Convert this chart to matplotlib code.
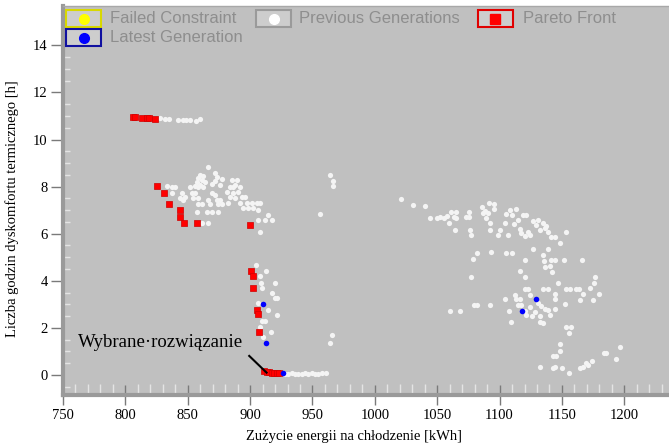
import matplotlib
matplotlib.use("Agg")
import matplotlib.pyplot as plt
from matplotlib.patches import Rectangle
from matplotlib.lines import Line2D
from matplotlib.ticker import MultipleLocator

# --- DATA ---
# previous generations (white dots)
prev_x = [828, 832, 835, 842, 846, 849, 852, 857, 860,
          865.9, 859.8, 862.4, 858.4, 861.1, 863.8, 857.1, 859.8, 855.8, 858.4, 862.4,
          871.8, 873.1, 871.8, 877.1, 869.1, 875.8, 833.1, 837.1, 839.7, 837.1, 845.1,
          851.8, 853.1, 855.8, 869.1, 871.8, 843.8, 846.4, 847.8, 854.4, 858.4, 866.5,
          873.1, 875.8, 858.4, 861.1, 867.8, 874.5, 877.1, 882.5, 883.8, 886.5, 886.5,
          885.2, 889.2, 883.8, 887.8, 891.8, 890.5, 893.2, 895.8, 887.8, 881.1, 891.8,
          897.2, 901.2, 905.2, 907.9, 894.5, 898.5, 902.5, 906.5, 857.1, 865.1, 869.1,
          874.5, 914.5, 906.5, 911.9, 917.2, 861.1, 866.5, 907.9,
          963.9, 966.6, 966.6, 955.9, 965.3, 963.9,
          904.4, 907.9, 912.4, 908.7, 919.9, 909.2, 917.2, 919.9, 921.2, 906.5, 914.6,
          909.2, 911.9, 921.8, 907.9, 916.4, 910.5,
          927.9, 930.6, 933.3, 935.9, 938.6, 941.3, 943.9, 946.6, 949.3, 951.9, 954.6,
          957.3, 960.8,
          1021.3, 1030.2, 1040.0, 1044.6, 1049.9, 1052.1, 1055.3, 1057.9, 1061.4, 1065.4,
          1063.3, 1065.4, 1059.5, 1064.4, 1072.9, 1075.6, 1075.6, 1076.1, 1077.4,
          1086.3, 1091.6, 1095.3, 1088.1, 1086.8, 1090.8, 1095.3, 1089.5, 1092.1, 1092.7,
          1100.1, 1098.8, 1106.8, 1104.2, 1105.5, 1108.2, 1113.0, 1110.3, 1111.4, 1114.8,
          1116.2, 1118.8, 1121.5, 1117.5, 1120.2, 1122.8, 1124.2, 1126.9, 1129.5, 1130.9,
          1132.2, 1134.9, 1136.2, 1137.5, 1138.9, 1141.5, 1144.2, 1153.6, 1148.8, 1126.9,
          1134.9, 1138.9, 1082.0, 1078.8, 1092.9, 1104.9, 1110.3, 1120.2, 1135.4, 1141.5,
          1144.2, 1151.4, 1166.4, 1136.2, 1140.2, 1116.2, 1142.3, 1120.2, 1077.4, 1146.9,
          1176.3, 1175.5, 1172.3,
          1060.1, 1068.1, 1079.3, 1081.5, 1092.2, 1104.2, 1107.7, 1109.5, 1112.2, 1113.5,
          1116.2, 1114.9, 1117.5, 1120.2, 1122.9, 1124.2, 1124.2, 1120.2, 1121.5, 1125.6,
          1128.2, 1130.9, 1133.6, 1132.2, 1132.2, 1134.9, 1136.2, 1138.9, 1140.2, 1144.2,
          1134.9, 1138.9, 1144.2, 1144.2, 1152.3, 1153.6, 1156.3, 1161.1, 1163.8, 1167.0,
          1164.8, 1175.0, 1179.8, 1153.6, 1157.6, 1155.7, 1148.3, 1148.3, 1142.9, 1145.6,
          1142.9, 1144.2, 1150.4, 1155.7, 1132.8, 1164.3, 1167.0, 1169.6, 1171.0, 1174.4,
          1183.5, 1193.7, 1196.3, 1185.0]
prev_y = [10.9, 10.88, 10.85, 10.82, 10.83, 10.82, 10.83, 10.8, 10.85,
          8.85, 8.49, 8.45, 8.35, 8.28, 8.21, 8.21, 8.07, 8.03, 8.00, 8.00,
          8.56, 8.42, 8.25, 8.31, 8.11, 8.07, 8.04, 8.00, 7.97, 7.72, 7.72,
          7.97, 7.72, 7.72, 7.72, 7.64, 7.50, 7.43, 7.55, 7.50, 7.50, 7.43,
          7.43, 7.43, 7.25, 7.25, 7.25, 7.25, 7.25, 7.32, 7.57, 7.72, 8.00,
          8.28, 8.28, 8.00, 8.07, 8.00, 7.79, 7.57, 7.57, 7.50, 7.79, 7.29,
          7.29, 7.32, 7.29, 7.29, 7.08, 7.08, 7.08, 7.01, 6.94, 6.94, 6.94,
          6.94, 6.80, 6.58, 6.58, 6.58, 6.44, 6.44, 6.09,
          8.49, 8.25, 8.03, 6.84, 1.70, 1.37,
          4.67, 4.20, 4.43, 3.92, 3.92, 3.68, 3.47, 3.26, 3.26, 3.04, 2.76,
          2.31, 2.31, 2.55, 2.05, 1.81, 1.60,
          0.06, 0.05, 0.07, 0.05, 0.06, 0.04, 0.08, 0.05, 0.10, 0.06, 0.04,
          0.07, 0.09,
          7.46, 7.22, 7.18, 6.68, 6.68, 6.72, 6.67, 6.75, 6.94, 6.94,
          6.72, 6.65, 6.44, 6.16, 6.70, 6.70, 6.94, 6.16, 5.95,
          7.15, 7.32, 7.26, 6.98, 6.87, 6.89, 7.04, 6.65, 6.44, 6.16,
          6.16, 5.95, 5.95, 6.44, 6.84, 7.01, 7.04, 6.80, 6.41, 6.58,
          6.19, 6.80, 6.80, 6.02, 5.90, 6.09, 5.95, 6.55, 6.37, 6.58,
          6.16, 6.44, 6.23, 6.33, 6.09, 5.85, 5.85, 6.09, 5.62, 5.34,
          5.10, 5.34, 5.20, 4.91, 5.21, 5.17, 5.17, 4.89, 4.86, 4.88,
          4.88, 4.88, 4.88, 4.60, 4.64, 4.43, 4.36, 4.18, 4.18, 3.92,
          4.15, 3.89, 3.68,
          2.72, 2.72, 2.97, 2.97, 2.97, 3.21, 2.73, 2.27, 3.40, 3.21,
          3.21, 2.97, 2.97, 3.64, 3.64, 3.40, 2.90, 2.73, 2.55, 2.51,
          2.69, 3.04, 2.93, 2.51, 2.27, 2.22, 2.79, 2.76, 2.55, 2.79,
          3.64, 3.64, 3.44, 3.21, 3.00, 3.64, 3.64, 3.64, 3.64, 3.44,
          3.19, 3.19, 3.44, 2.02, 2.02, 1.80, 1.32, 1.03, 0.81, 0.81,
          0.28, 0.36, 0.28, 0.07, 0.33, 0.28, 0.33, 0.52, 0.42, 0.61,
          0.95, 0.67, 1.18, 0.92]

# pareto front (red squares)
pareto_x = [806, 808, 813, 817, 819, 824,
            825.0, 831.2, 835.0, 843.5, 843.5, 847.2, 857.4, 899.8,
            900.7, 902.0, 902.5, 905.2, 906.0, 906.8,
            911.1, 913.2, 915.4, 917.2, 919.1, 921.2, 922.8]
pareto_y = [10.95, 10.95, 10.93, 10.92, 10.9, 10.88,
            8.02, 7.71, 7.25, 6.99, 6.72, 6.45, 6.45, 6.36,
            4.43, 4.20, 3.68, 2.76, 2.58, 1.81,
            0.15, 0.13, 0.12, 0.10, 0.09, 0.08, 0.07]

# latest generation (blue dots)
latest_x = [910.5, 913.0, 926.0, 1128.8, 1118.1]
latest_y = [3.00, 1.35, 0.07, 3.21, 2.72]

x_ticks = list(range(750, 1201, 50))
y_ticks = list(range(0, 15, 2))

chosen_label = "Wybrane·rozwiązanie"
chosen_text_pos = (762, 1.36)
chosen_line_x = [899.3, 913.2]
chosen_line_y = [0.81, 0.10]

legend_items = [
    ("Failed Constraint", "o", "#ffff00", "#d8d800"),
    ("Previous Generations", "o", "#ffffff", "#9a9a9a"),
    ("Pareto Front", "s", "#ff0000", "#e00000"),
    ("Latest Generation", "o", "#0000ff", "#1010a0"),
]

# --- PLOT ---
W, H = 669, 445
fig = plt.figure(figsize=(W / 100, H / 100), dpi=100)
ax = fig.add_axes([63 / W, 1 - 395 / H, (W - 63) / W + 0.01, 389 / H])
ax.set_facecolor("#c0c0c0")

ax.scatter(prev_x, prev_y, s=14, color="#f4f4f4", linewidths=0, zorder=2)
ax.scatter(pareto_x, pareto_y, s=18, marker="s", color="#ff0000",
           edgecolors="#d00000", linewidths=0.5, zorder=3)
ax.scatter(latest_x, latest_y, s=16, color="#0000ff", linewidths=0, zorder=4)

ax.plot(chosen_line_x, chosen_line_y, color="black", lw=1.5, zorder=5)
ax.text(chosen_text_pos[0], chosen_text_pos[1], chosen_label, fontsize=13.5,
        family="Liberation Serif", va="center", ha="left")

ax.set_xlim(750, 750 + (W + 7 - 63) / 1.248)
ax.set_ylim(-0.85, 15.67)
ax.set_xticks(x_ticks)
ax.set_yticks(y_ticks)
ax.xaxis.set_minor_locator(MultipleLocator(10))
ax.yaxis.set_minor_locator(MultipleLocator(0.5))

for lab in ax.get_xticklabels() + ax.get_yticklabels():
    lab.set_family("Liberation Serif")
    lab.set_fontsize(10.5)

ax.tick_params(axis="x", which="major", direction="inout", length=14, width=1,
               color="#7a7a7a", pad=3)
ax.tick_params(axis="x", which="minor", direction="in", length=8, width=1,
               color="#e4e4e4")
ax.tick_params(axis="y", which="major", direction="out", length=9, width=1,
               color="#7a7a7a", pad=2)
ax.tick_params(axis="y", which="minor", direction="in", length=5, width=1,
               color="#e4e4e4")

for side in ["left", "bottom"]:
    ax.spines[side].set_color("#9a9a9a")
    ax.spines[side].set_linewidth(3)
ax.spines["top"].set_color("#a8a8a8")
ax.spines["top"].set_linewidth(1)
ax.spines["right"].set_visible(False)

ax.set_xlabel("Zużycie energii na chłodzenie [kWh]", family="Liberation Serif",
              fontsize=10.5)
ax.set_ylabel("Liczba godzin dyskomfortu termicznego [h]", family="Liberation Serif",
              fontsize=10.5)
ax.xaxis.set_label_coords((351 - 63) / 606, -0.09)
ax.yaxis.set_label_coords(-0.071, 0.478)

# --- LEGEND (drawn like the program's boxes) ---
legend_pos = [(66, 10, 110), (256, 10, 299), (478, 10, 523), (66, 29, 110)]
for (label, mk, fc, ec), (bx, by, tx) in zip(legend_items, legend_pos):
    fig.add_artist(Rectangle((bx / W, 1 - (by + 17) / H), 35 / W, 17 / H,
                             transform=fig.transFigure, facecolor="#cdcdcd",
                             edgecolor=ec, lw=1.5, zorder=10))
    cy = 1 - (by + 8.5) / H
    fig.add_artist(Line2D([(bx + 17.5) / W], [cy], marker=mk, ms=7, color=fc,
                          markeredgecolor=fc, transform=fig.transFigure, zorder=11))
    fig.text(tx / W, cy, label, fontsize=12, color="#8e8e8e", va="center",
             ha="left", family="Liberation Sans", zorder=11)

fig.savefig("out.png", dpi=100)
